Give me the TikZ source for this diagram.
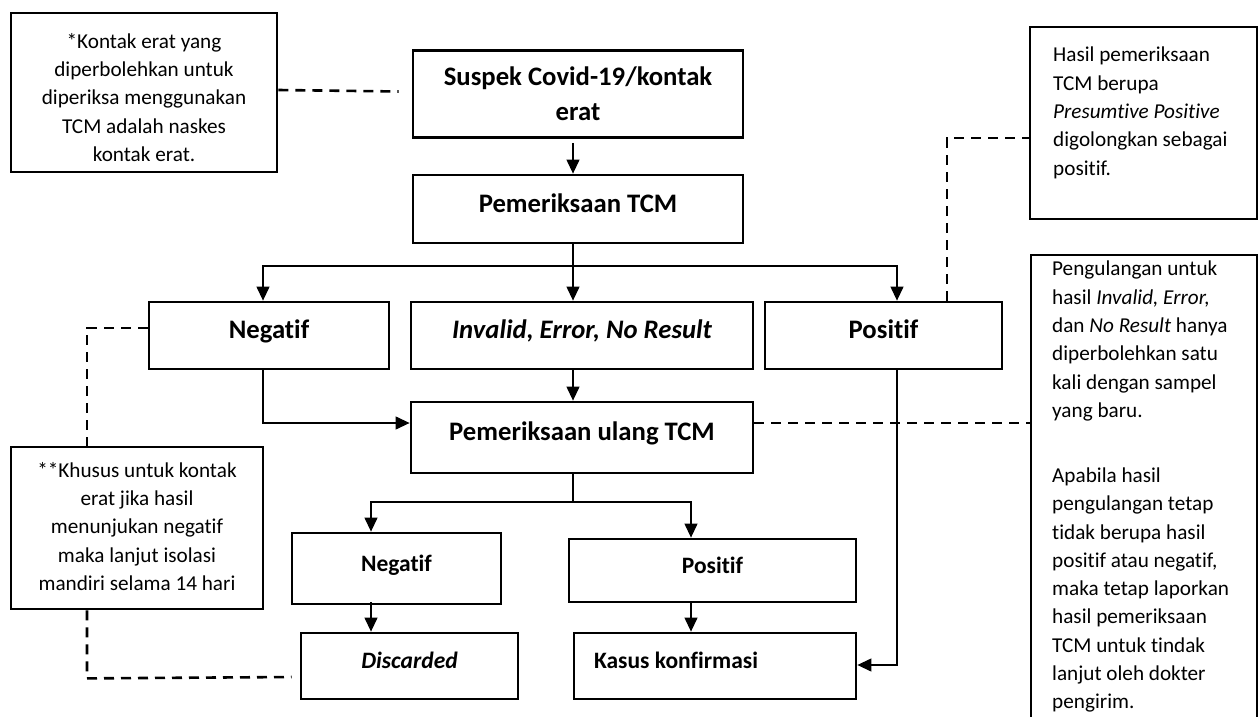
\documentclass[tikz,border=0pt]{standalone}
\usepackage{fontspec}
\setmainfont{Carlito}[Ligatures=NoCommon]
\usetikzlibrary{arrows.meta}
\begin{document}
\begin{tikzpicture}[x=1pt,y=-1pt,
  box/.style={draw, line width=2.8pt, inner sep=0pt, font=\fontsize{26.7}{35}\selectfont\bfseries},
  one/.style={text height=18pt, text depth=12pt},
  low/.style={font=\fontsize{23.5}{30}\selectfont\bfseries, text height=16.5pt, text depth=11pt},
  note/.style={draw, line width=2.8pt, inner sep=0pt},
  ntext/.style={inner sep=0pt, font=\fontsize{21.2}{28.3}\selectfont},
  conn/.style={line width=1.2pt, -{Triangle[length=14pt,width=13pt]}},
  plain/.style={line width=1.2pt},
  dsh/.style={line width=2.6pt, dash pattern=on 10pt off 7pt}]
\useasboundingbox (0,0) rectangle (1259,717);
\fill[white] (0,0) rectangle (1259,717);

% flow boxes
\node[box, align=center, minimum width=330pt, minimum height=87pt] (Suspek) at (578,94) {Suspek Covid-19/kontak\\erat};
\node[box, one, minimum width=330pt, minimum height=68pt] (PTCM) at (578,209) {Pemeriksaan TCM};
\node[box, one, minimum width=240pt, minimum height=67pt] (Neg1) at (269,335.5) {Negatif};
\node[box, one, minimum width=342pt, minimum height=67pt] (Inv) at (582,335.5) {\itshape Invalid, Error, No Result};
\node[box, one, minimum width=237pt, minimum height=67pt] (Pos1) at (883.5,335.5) {Positif};
\node[box, one, minimum width=342pt, minimum height=71pt] (Ulang) at (582,437.5) {Pemeriksaan ulang TCM};
\node[box, low, minimum width=209pt, minimum height=71pt] (Neg2) at (396.5,568.5) {Negatif};
\node[box, low, minimum width=287pt, minimum height=63pt] (Pos2) at (712.5,570.5) {Positif};
\node[box, low, minimum width=217pt, minimum height=66pt] (Disc) at (409.5,666) {\itshape Discarded};
\node[box, minimum width=282pt, minimum height=66pt] (Kasus) at (715,666) {};
\node[box, low, draw=none] (Kt) at (676,666) {Kasus konfirmasi};

% note boxes
\node[note, minimum width=266pt, minimum height=159pt] (A) at (144,92.5) {};
\node[ntext, align=center, anchor=north] (At) at (144,33) {*Kontak erat yang\\diperbolehkan untuk\\diperiksa menggunakan\\TCM adalah naskes\\kontak erat.};
\node[note, minimum width=227pt, minimum height=192pt] (B) at (1143.5,123) {};
\node[ntext, align=left, anchor=north west] (Bt) at (1053,47) {Hasil pemeriksaan\\TCM berupa\\\textit{Presumtive Positive}\\digolongkan sebagai\\positif.};
\node[note, minimum width=226pt, minimum height=475pt] (C) at (1144,492.5) {};
\node[ntext, align=left, anchor=north west] (Ct) at (1052,261) {Pengulangan untuk\\hasil \textit{Invalid, Error,}\\dan \textit{No Result} hanya\\diperbolehkan satu\\kali dengan sampel\\yang baru.\\[36.7pt]Apabila hasil\\pengulangan tetap\\tidak berupa hasil\\positif atau negatif,\\maka tetap laporkan\\hasil pemeriksaan\\TCM untuk tindak\\lanjut oleh dokter\\pengirim.};
\node[note, minimum width=252pt, minimum height=162pt] (D) at (137,528) {};
\node[ntext, align=center, anchor=north] (Dt) at (137,462) {**Khusus untuk kontak\\erat jika hasil\\menunjukan negatif\\maka lanjut isolasi\\mandiri selama 14 hari};

% branch points
\coordinate (b1) at (573,266);
\coordinate (b2) at (573,502);

% solid connectors
\draw[conn] ([xshift=-5pt,yshift=-4pt]Suspek.south) -- ([xshift=-5pt]PTCM.north);
\draw[plain] ([xshift=-5pt]PTCM.south) -- (b1);
\draw[conn] (b1) -| ([xshift=-6pt]Neg1.north);
\draw[conn] (b1) -- (Inv.north -| b1);
\draw[conn] (b1) -| ([xshift=13.5pt]Pos1.north);
\draw[conn] (Inv.south -| b1) -- (Ulang.north -| b1);
\draw[conn] ([xshift=-6pt]Neg1.south) |- ([yshift=14.5pt]Ulang.west);
\draw[conn] ([xshift=13.5pt]Pos1.south) |- ([yshift=1pt]Kasus.east);
\draw[plain] (Ulang.south -| b2) -- (b2);
\draw[conn] (b2) -| ([xshift=-25.5pt]Neg2.north);
\draw[conn] (b2) -| ([xshift=-21.5pt]Pos2.north);
\draw[conn] ([xshift=-25.5pt,yshift=3pt]Neg2.south) -- (Disc.north -| 371,0);
\draw[conn] ([xshift=-21.5pt]Pos2.south) -- (Kasus.north -| 691,0);

% dashed connectors
\draw[dsh] ([yshift=2.5pt]A.east) -- ([xshift=-13pt,yshift=2.5pt]Suspek.west);
\draw[dsh] ([xshift=63.5pt]Pos1.north) |- ([yshift=-15pt]B.west);
\draw[dsh] ([yshift=14.5pt]Ulang.east) -- ([yshift=14.5pt]Ulang.east -| C.west);
\draw[dsh] ([yshift=7.5pt]Neg1.west) -| ([xshift=-50pt]D.north);
\draw[dsh] ([xshift=-50pt]D.south) -| ++(0,68) -- ([xshift=-8pt,yshift=-11pt]Disc.west);
\end{tikzpicture}
\end{document}
